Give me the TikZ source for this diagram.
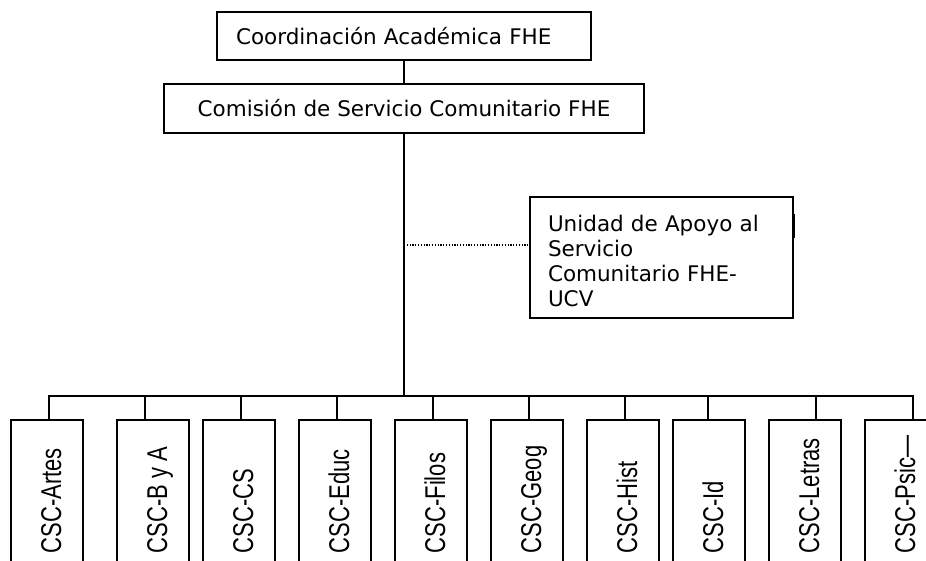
\documentclass[tikz,border=0pt]{standalone}
\usepackage{fontspec}
\setmainfont{DejaVu Sans}
\newfontfamily\fuentecsc{Liberation Sans}
\usetikzlibrary{positioning}

\begin{document}
\begin{tikzpicture}[x=1pt,y=-1pt,line width=1.6pt,
    caja/.style={draw,rectangle,inner sep=0pt,font=\fontsize{21.5pt}{25pt}\selectfont},
    csc/.style={draw,rectangle,minimum width=72pt,minimum height=180pt},
    csctexto/.style={xscale=1.3,rotate=90,anchor=base west,inner sep=0pt,font=\fuentecsc\fontsize{22pt}{25pt}\selectfont}]
  \useasboundingbox (0,0) rectangle (926,561);
  \clip (0,0) rectangle (926,561);
  \node[caja,minimum width=374pt,minimum height=48pt,text width=336pt,align=left,inner xsep=19pt] (coord) at (404,36) {Coordinación Académica FHE};
  \node[caja,minimum width=480pt,minimum height=49pt] (comision) at (404,108.5) {Comisión de Servicio Comunitario FHE};
  \node[caja,minimum width=263pt,minimum height=121pt,text width=227pt,align=left,inner xsep=18pt] (unidad) at (661.5,257.5) {\rule{0pt}{24pt}Unidad de Apoyo al\\Servicio\\Comunitario FHE-\\UCV};
  \draw (coord.south) -- (comision.north);
  \coordinate (bus) at (404,396);
  \draw (comision.south) -- (bus);
  \coordinate (punto) at (404,245);
  \draw[line width=1.2pt,dash pattern=on 1.2pt off 1.6pt] (punto) -- (punto -| unidad.west);
  \draw[line width=3pt] ([yshift=-18pt]unidad.north east) -- ([yshift=-42pt]unidad.north east);
  \foreach \cx/\dx/\nombre [count=\i] in {47/49/Artes,153/145/B y A,239/241/CS,335/337/Educ,431/433/Filos,527/529/Geog,623/625/Hist,709/708/Id,805/816/Letras,901/913/Psic—}{
    \node[csc] (b\i) at (\cx,510) {};
    \node[csctexto] (t\i) at (\cx+14,554) {CSC-\nombre};
    \coordinate (d\i) at (\dx,396);
    \draw[line cap=rect] (d\i) -- (d\i |- b\i.north);
  }
  \draw[line cap=rect] (d1) -- (d10);
\end{tikzpicture}
\end{document}
